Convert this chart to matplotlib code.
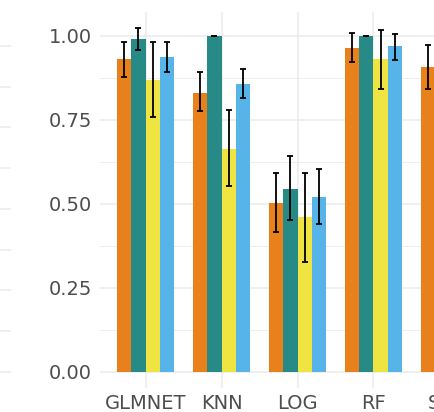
import numpy as np
import matplotlib
matplotlib.use("Agg")
import matplotlib.pyplot as plt

models = ["GLMNET", "KNN", "LOG", "RF", "SVM"]
series = ["s1", "s2", "s3", "s4"]
colors = ["#E8801C", "#278A87", "#F0E442", "#56B4E9"]

# mean values per series (one entry per model); SVM only partly visible
means = [
    [0.931, 0.831, 0.502, 0.965, 0.908],
    [0.990, 1.000, 0.544, 1.000, np.nan],
    [0.869, 0.664, 0.460, 0.931, np.nan],
    [0.937, 0.858, 0.521, 0.969, np.nan],
]
lower = [
    [0.877, 0.777, 0.415, 0.923, 0.842],
    [0.958, 1.000, 0.451, 1.000, np.nan],
    [0.758, 0.552, 0.328, 0.843, np.nan],
    [0.892, 0.816, 0.441, 0.929, np.nan],
]
upper = [
    [0.983, 0.891, 0.591, 1.009, 0.974],
    [1.022, 1.000, 0.641, 1.000, np.nan],
    [0.983, 0.780, 0.592, 1.017, np.nan],
    [0.981, 0.901, 0.603, 1.007, np.nan],
]

W, H = 434, 412
fig = plt.figure(figsize=(W / 100, H / 100), dpi=100)

# sliver of the neighbouring panel on the left (only its gridlines show)
axl = fig.add_axes([-0.2, (412 - 388) / H, (11 + 0.2 * W) / W, (388 - 12) / H])
axl.set_ylim(-0.048, 1.071)
axl.set_xlim(0, 1)
for i in range(9):
    axl.axhline(i * 0.1213, color="#EBEBEB", lw=1.1)
axl.axis("off")

ax = fig.add_axes([100 / W, (412 - 388) / H, (495 - 100) / W, (388 - 12) / H])
x = np.arange(len(models)) + 1
bw = 0.1875
for i, s in enumerate(series):
    xs = x + (i - 1.5) * bw
    m = np.array(means[i])
    ok = ~np.isnan(m)
    ax.bar(xs[ok], m[ok], width=bw, color=colors[i], zorder=2)
    lo = np.array(lower[i])
    hi = np.array(upper[i])
    ax.errorbar(xs[ok], m[ok], yerr=[m[ok] - lo[ok], hi[ok] - m[ok]],
                fmt="none", ecolor="black", elinewidth=1.3, capsize=2.3,
                capthick=1.3, zorder=3)

ax.set_xlim(0.4, 5.6)
ax.set_ylim(-0.048, 1.071)
ax.set_xticks(x)
ax.set_xticklabels(models)
ax.set_yticks([0, 0.25, 0.5, 0.75, 1.0])
ax.set_yticklabels(["0.00", "0.25", "0.50", "0.75", "1.00"])
ax.set_yticks([0.125, 0.375, 0.625, 0.875], minor=True)
ax.grid(True, which="major", color="#EBEBEB", lw=1.1, zorder=0)
ax.grid(True, which="minor", axis="y", color="#EBEBEB", lw=0.6, zorder=0)
ax.set_axisbelow(True)
for sp in ax.spines.values():
    sp.set_visible(False)
ax.tick_params(axis="both", which="both", length=0, labelsize=14, labelcolor="#4D4D4D")
ax.tick_params(axis="y", pad=6)
ax.tick_params(axis="x", pad=4)

fig.savefig("out.png", dpi=100)
